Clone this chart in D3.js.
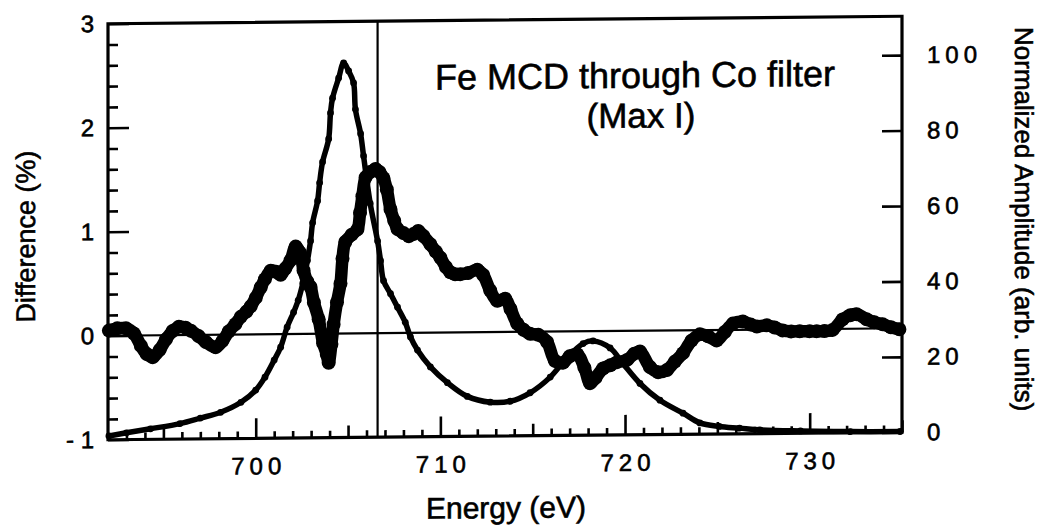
<!DOCTYPE html>
<html><head><meta charset="utf-8">
<script src="https://cdn.jsdelivr.net/npm/d3@7"></script>
<style>
body{margin:0;background:#fff;}
svg{display:block;}
text{font-family:"Liberation Sans", Arial, Helvetica, sans-serif; fill:#000; stroke:#000; stroke-width:0.6px;}
</style>
</head><body><svg id="c" width="1042" height="529"></svg>
<script>
// ---- data ----
const mcdEnergy = [692.05,692.5,692.97,693.4,693.78,694.1,694.43,694.8,695.14,695.5,695.84,696.2,696.49,696.9,697.3,697.84,698.2,698.54,698.9,699.19,699.5,699.73,700.0,700.27,700.5,700.81,701.1,701.35,701.6,701.89,702.16,702.4,702.59,702.8,702.97,703.15,703.41,703.65,703.85,703.95,704.1,704.22,704.4,704.59,704.7,704.85,705.2,705.51,705.65,705.78,705.95,706.2,706.49,706.7,706.92,707.1,707.3,707.5,707.68,708.0,708.3,708.54,708.8,709.08,709.46,709.75,710.0,710.3,710.54,710.8,711.08,711.5,712.0,712.32,712.7,713.08,713.51,713.8,714.16,714.5,714.86,715.3,715.78,716.2,716.65,717.0,717.41,717.8,718.11,718.4,718.81,719.2,719.57,720.11,720.5,720.81,721.35,721.8,722.27,722.7,723.14,723.6,724.05,724.5,724.97,725.4,725.84,726.38,726.8,727.14,727.68,728.1,728.54,729.0,729.46,730.0,730.38,730.8,731.24,731.78,732.2,732.54,733.08,733.5,733.95,734.4,734.86];
const mcdDifference = [0.05,0.07,0.07,0.02,-0.1,-0.18,-0.21,-0.14,-0.04,0.04,0.08,0.07,0.04,-0.01,-0.07,-0.12,-0.06,0.03,0.1,0.17,0.22,0.27,0.35,0.45,0.53,0.61,0.6,0.57,0.63,0.71,0.84,0.78,0.61,0.5,0.45,0.3,0.14,-0.09,-0.2,-0.28,-0.1,0.09,0.3,0.48,0.72,0.88,0.95,1.0,1.16,1.32,1.5,1.55,1.58,1.55,1.49,1.38,1.19,1.08,1.0,0.96,0.93,0.95,0.98,0.93,0.85,0.78,0.72,0.63,0.58,0.56,0.56,0.57,0.6,0.55,0.4,0.3,0.32,0.22,0.08,0.02,-0.02,-0.03,-0.1,-0.28,-0.3,-0.24,-0.22,-0.35,-0.5,-0.45,-0.36,-0.33,-0.3,-0.28,-0.22,-0.2,-0.35,-0.4,-0.38,-0.3,-0.22,-0.1,-0.04,-0.06,-0.1,-0.02,0.06,0.08,0.05,0.03,0.04,0.02,-0.01,-0.02,-0.02,-0.02,-0.02,-0.02,-0.01,0.09,0.13,0.14,0.09,0.06,0.04,0.01,-0.01];

const absEnergy = [692.05,693.0,694.3,695.9,697.0,698.1,699.2,700.0,700.5,701.0,701.35,701.7,702.05,702.3,702.55,702.8,702.97,703.08,703.35,703.46,703.62,703.95,704.05,704.16,704.49,704.76,705.03,705.3,705.4,705.68,705.84,706.2,706.6,706.76,706.92,707.3,707.68,708.1,708.38,708.76,709.46,710.38,711.46,712.7,713.78,714.86,715.95,716.86,717.73,718.27,719.19,719.89,720.81,721.89,723.14,724.05,725.1,726.2,727.3,729.5,732.2,734.9];
const absAmplitude = [1.0,1.8,2.8,4.1,5.5,7.0,9.6,12.8,16.2,20.7,24.1,29.4,33.3,36.5,41,47,52.2,57,62.8,67.6,73.1,79.2,86.1,90,95.3,99.3,97.2,94,87,80.5,74.6,62,52,46.8,41.5,38,34.4,30.4,26.5,23,18.5,14.3,10.6,9.0,9.2,11.4,15.5,20.6,24.3,25,23.1,18.9,13.6,9.1,5.6,3,2,1.5,1.0,0.6,0.3,0.2];

const energyDomain = [692, 735];
const leftDomain = [-1, 3];
const rightDomain = [0, 110.3];
const xTicks = [700, 710, 720, 730];
const xMidTicks = [695, 705, 715, 725, 735];
const xMinorTicks = [693,694,696,697,698,699,701,702,703,704,706,707,708,709,711,712,713,714,716,717,718,719,721,722,723,724,726,727,728,729,731,732,733,734];
const leftTicks = [-1, 0, 1, 2, 3];
const leftTickLabels = ["- 1", "0", "1", "2", "3"];
const leftMinorTicks = [-0.8,-0.6,-0.4,-0.2,0.2,0.4,0.6,0.8,1.2,1.4,1.6,1.8,2.2,2.4,2.6,2.8];
const rightTicks = [0, 20, 40, 60, 80, 100];
const markerEnergy = 706.6;
const titleLines = ["Fe MCD through Co filter", "(Max I)"];
const xLabel = "Energy (eV)";
const yLeftLabel = "Difference (%)";
const yRightLabel = "Normalized Amplitude (arb. units)";

// ---- layout ----
const L = 108, R = 902, T = 20, B = 436;
const svg = d3.select("#c");
const root = svg.append("g").attr("transform", "translate(505,0) skewY(-0.54) translate(-505,0)");

const x = d3.scaleLinear().domain(energyDomain).range([L, R]);
const yL = d3.scaleLinear().domain(leftDomain).range([B, T]);
const yR = d3.scaleLinear().domain(rightDomain).range([B, T]);

function styleAxis(g, fs, ls){
  g.select(".domain").remove();
  g.selectAll(".tick line").attr("stroke", "#000").attr("stroke-width", 2.6);
  g.selectAll("text").attr("font-size", fs).attr("fill", "#000").style("letter-spacing", ls);
}

// left axis
root.append("g").attr("transform", `translate(${L},0)`)
  .call(d3.axisLeft(yL).tickValues(leftMinorTicks).tickSizeInner(-10).tickSizeOuter(0).tickFormat(""))
  .call(g => styleAxis(g, 0, "0px"));
root.append("g").attr("transform", `translate(${L},0)`)
  .call(d3.axisLeft(yL).tickValues(leftTicks).tickSizeInner(-21).tickSizeOuter(0).tickPadding(14)
        .tickFormat((d, i) => leftTickLabels[i]))
  .call(g => styleAxis(g, 24, "0px"));

// bottom axis
root.append("g").attr("transform", `translate(0,${B})`)
  .call(d3.axisBottom(x).tickValues(xMinorTicks).tickSizeInner(-7).tickSizeOuter(0).tickFormat(""))
  .call(g => styleAxis(g, 0, "0px"));
root.append("g").attr("transform", `translate(0,${B})`)
  .call(d3.axisBottom(x).tickValues(xMidTicks).tickSizeInner(-12).tickSizeOuter(0).tickFormat(""))
  .call(g => styleAxis(g, 0, "0px"));
root.append("g").attr("transform", `translate(0,${B})`)
  .call(d3.axisBottom(x).tickValues(xTicks).tickSizeInner(-20).tickSizeOuter(0).tickPadding(19).tickFormat(d3.format("d")))
  .call(g => styleAxis(g, 24, "5px"))
  .call(g => g.selectAll("text").attr("dx", 2.5));

// right axis
root.append("g").attr("transform", `translate(${R},0)`)
  .call(d3.axisRight(yR).tickValues(rightTicks).tickSizeInner(-20).tickSizeOuter(0).tickPadding(25).tickFormat(d3.format("d")))
  .call(g => styleAxis(g, 24, "5px"));

// frame
root.append("rect").attr("x", L).attr("y", T).attr("width", R - L).attr("height", B - T)
  .attr("fill", "none").attr("stroke", "#000").attr("stroke-width", 3.2);

// reference lines
root.append("line").attr("x1", L).attr("x2", R).attr("y1", yL(0)).attr("y2", yL(0))
  .attr("stroke", "#000").attr("stroke-width", 2.2);
root.append("line").attr("x1", x(markerEnergy)).attr("x2", x(markerEnergy)).attr("y1", T).attr("y2", B)
  .attr("stroke", "#000").attr("stroke-width", 2.2);

// absorption (small dots)
const absData = absEnergy.map((e, i) => ({e, v: absAmplitude[i]}));
const absLine = d3.line().x(d => x(d.e)).y(d => yR(d.v)).curve(d3.curveCatmullRom.alpha(0.5));
root.append("path").datum(absData).attr("d", absLine).attr("fill", "none")
  .attr("stroke", "#000").attr("stroke-width", 5.5).attr("stroke-linecap", "round").attr("stroke-linejoin", "round");
root.append("g").selectAll("circle").data(absData).join("circle")
  .attr("cx", d => x(d.e)).attr("cy", d => yR(d.v)).attr("r", 3.4).attr("fill", "#000");

// MCD difference (big dots)
const mcdData = mcdEnergy.map((e, i) => ({e, v: mcdDifference[i]}));
const mcdLine = d3.line().x(d => x(d.e)).y(d => yL(d.v)).curve(d3.curveCatmullRom.alpha(0.5));
root.append("path").datum(mcdData).attr("d", mcdLine).attr("fill", "none")
  .attr("stroke", "#000").attr("stroke-width", 12.5).attr("stroke-linecap", "round").attr("stroke-linejoin", "round");
root.append("g").selectAll("circle").data(mcdData).join("circle")
  .attr("cx", d => x(d.e)).attr("cy", d => yL(d.v)).attr("r", 7).attr("fill", "#000");

// title
root.append("text").attr("x", 635).attr("y", 89).attr("text-anchor", "middle").attr("font-size", 36).text(titleLines[0]);
root.append("text").attr("x", 641).attr("y", 129).attr("text-anchor", "middle").attr("font-size", 35).text(titleLines[1]);

// axis titles
root.append("text").attr("x", 506).attr("y", 518).attr("text-anchor", "middle").attr("font-size", 30).text(xLabel);
root.append("text").attr("transform", "translate(35,232) rotate(-90)").attr("text-anchor", "middle").attr("font-size", 27).text(yLeftLabel);
root.append("text").attr("transform", "translate(1015,224) rotate(90)").attr("text-anchor", "middle").attr("font-size", 26).text(yRightLabel);
</script>
</body></html>
